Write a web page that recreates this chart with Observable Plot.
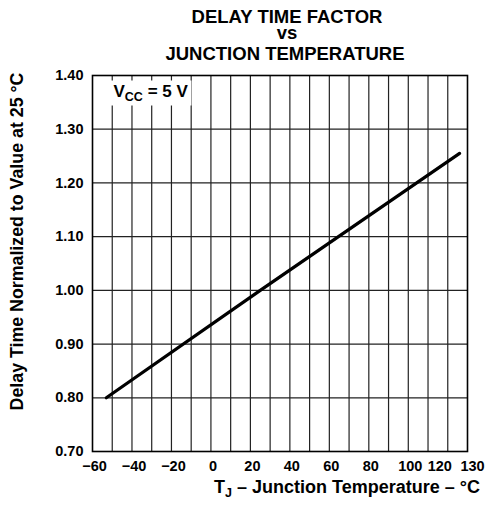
<!DOCTYPE html>
<html>
<head>
<meta charset="utf-8">
<script src="https://cdn.jsdelivr.net/npm/d3@7"></script>
<script src="https://cdn.jsdelivr.net/npm/@observablehq/plot@0.6"></script>
<style>
  html, body { margin: 0; padding: 0; background: #fff; }
  svg { display: block; }
</style>
</head>
<body>
<script>
// Data
const temperatures = [-53, 25, 126];          // T_J (°C)
const delayFactor  = [0.80, 1.00, 1.255];     // delay time normalized to 25 °C

const xTickLabels = [-60, -40, -20, 0, 20, 40, 60, 80, 100];
const xTick120    = [120];
const xTick130    = [130];
const xGridLines  = [-50, -40, -30, -20, -10, 0, 10, 20, 30, 40, 50, 60, 70, 80, 90, 100, 110, 120];
const yTickLabels = [0.70, 0.80, 0.90, 1.00, 1.10, 1.20, 1.30, 1.40];
const yGridLines  = [0.80, 0.90, 1.00, 1.10, 1.20, 1.30];

const titleLines = ["DELAY TIME FACTOR", "vs", "JUNCTION TEMPERATURE"];
const conditionLabel = "VCC = 5 V";
const xLabel = "TJ – Junction Temperature – °C";
const yLabel = "Delay Time Normalized to Value at 25 °C";

const data = temperatures.map((t, i) => ({t, f: delayFactor[i]}));

const font = "'Liberation Sans', Arial, Helvetica, sans-serif";
const minusFmt = d => d < 0 ? "\u2212" + Math.abs(d) : String(d);

const chart = Plot.plot({
  width: 494,
  height: 506,
  marginLeft: 92,
  marginRight: 27,
  marginTop: 75,
  marginBottom: 55,
  style: {fontFamily: font, fontWeight: "bold", color: "#000", background: "#fff"},
  x: {domain: [-60, 130]},
  y: {domain: [0.70, 1.40]},
  marks: [
    Plot.gridX(xGridLines, {stroke: "#222", strokeOpacity: 1, strokeWidth: 1.2}),
    Plot.gridY(yGridLines, {stroke: "#222", strokeOpacity: 1, strokeWidth: 1.2}),
    Plot.text([conditionLabel], {
      frameAnchor: "top-left", dx: 21, dy: 21, lineAnchor: "bottom",
      textAnchor: "start", fontSize: 17, fill: "#000"
    }),
    Plot.frame({stroke: "#000", strokeWidth: 1.6}),
    Plot.line(data, {x: "t", y: "f", stroke: "#000", strokeWidth: 3.2}),
    Plot.axisX(xTickLabels, {tickSize: 0, tickPadding: 9, fontSize: 14.5, dx: 2, label: null, tickFormat: minusFmt}),
    Plot.axisX(xTick120, {tickSize: 0, tickPadding: 9, fontSize: 14.5, dx: -8, label: null}),
    Plot.axisX(xTick130, {tickSize: 0, tickPadding: 9, fontSize: 14.5, dx: 5, label: null}),
    Plot.axisY(yTickLabels, {tickSize: 0, tickPadding: 9, fontSize: 14.5, label: null,
      tickFormat: d3.format(".2f")}),
    Plot.text([titleLines[0]], {frameAnchor: "top", dx: 7, dy: -58.3, lineAnchor: "middle", fontSize: 18.5, fill: "#000"}),
    Plot.text([titleLines[1]], {frameAnchor: "top", dx: 7, dy: -42.8, lineAnchor: "middle", fontSize: 18.5, fill: "#000"}),
    Plot.text([titleLines[2]], {frameAnchor: "top", dx: 5, dy: -21.8, lineAnchor: "middle", fontSize: 18.5, fill: "#000"}),
    Plot.text([xLabel], {frameAnchor: "bottom", dx: 67, dy: 36, lineAnchor: "middle", fontSize: 18, fill: "#000"}),
    Plot.text([yLabel], {frameAnchor: "left", dx: -75, dy: -22, rotate: -90, textAnchor: "middle", lineAnchor: "middle", fontSize: 17.8, fill: "#000"})
  ]
});
document.body.append(chart);

// Subscripts (V_CC, T_J) and a white box behind the condition label
const ns = "http://www.w3.org/2000/svg";
const findText = s => Array.from(chart.querySelectorAll("text")).find(t => t.textContent === s);
function subscript(textEl, main, sub, rest, size) {
  if (!textEl) return;
  textEl.textContent = "";
  const a = document.createElementNS(ns, "tspan"); a.textContent = main;
  const b = document.createElementNS(ns, "tspan"); b.textContent = sub;
  b.setAttribute("dy", "4"); b.setAttribute("font-size", size);
  const c = document.createElementNS(ns, "tspan"); c.textContent = rest;
  c.setAttribute("dy", "-4");
  textEl.append(a, b, c);
}
const vText = findText(conditionLabel);
subscript(vText, "V", "CC", " = 5 V", 12.5);
const xText = findText(xLabel);
subscript(xText, "T", "J", " – Junction Temperature – °C", 12.5);

if (vText) {
  const svgRect = chart.getBoundingClientRect();
  const bb = vText.getBoundingClientRect();
  const frameRect = Array.from(chart.querySelectorAll("rect")).find(r => r.getAttribute("fill") === "none");
  const fx = frameRect ? +frameRect.getAttribute("x") : bb.left - svgRect.left - 20;
  const box = document.createElementNS(ns, "rect");
  box.setAttribute("x", fx);
  box.setAttribute("y", bb.top - svgRect.top - 1);
  box.setAttribute("width", bb.right - svgRect.left + 3 - fx);
  box.setAttribute("height", bb.height + 3);
  box.setAttribute("fill", "#fff");
  const vGroup = vText.parentNode;
  vGroup.parentNode.insertBefore(box, vGroup);
}
</script>
</body>
</html>
